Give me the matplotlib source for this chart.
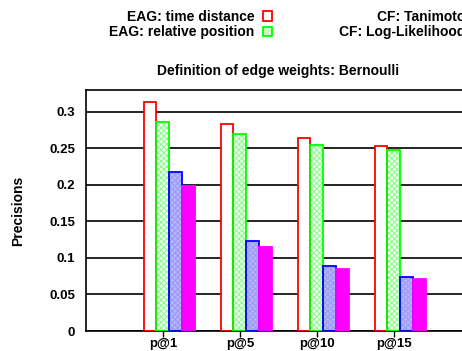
import numpy as np
import matplotlib.pyplot as plt
from matplotlib.patches import Patch

plt.rcParams['font.family'] = ['Liberation Sans', 'DejaVu Sans']
plt.rcParams['font.weight'] = 'bold'
plt.rcParams['axes.labelweight'] = 'bold'
plt.rcParams['hatch.linewidth'] = 0.8

# datos
categories = ['p@1', 'p@5', 'p@10', 'p@15']
series_names = ['EAG: time distance', 'EAG: relative position',
                'CF: Tanimoto', 'CF: Log-Likelihood']
eag_time = [0.313, 0.284, 0.264, 0.253]
eag_rel = [0.286, 0.270, 0.255, 0.248]
cf_tanimoto = [0.218, 0.123, 0.089, 0.074]
cf_loglik = [0.199, 0.115, 0.085, 0.071]
yticks = [0, 0.05, 0.1, 0.15, 0.2, 0.25, 0.3]
ytick_labels = ['0', '0.05', '0.1', '0.15', '0.2', '0.25', '0.3']

series = [eag_time, eag_rel, cf_tanimoto, cf_loglik]

# estilos: (relleno, color del patrón, patrón, borde)
styles = [
    ('white', 'white', None, '#ff0000'),
    ('white', '#88ff88', 'xxxxxx', '#00ff00'),
    ('#b4b4ff', '#9c9cf0', 'xxxxxx', '#0000ff'),
    ('#ff00ff', '#ff00ff', None, '#ff00ff'),
]
legend_fill = ['white', '#c8ffc8', '#b4b4ff', '#ff00ff']

fig = plt.figure(figsize=(4.62, 3.51), dpi=100)
ax = fig.add_axes([86/462, 20/351, 385/462, 241/351])

x = np.arange(len(categories))
w = 0.165
offsets = [-0.25 + i*w for i in range(4)]

for vals, (fc, hc, hatch, ec), off in zip(series, styles, offsets):
    ax.bar(x + off, vals, w, align='edge', facecolor=fc, edgecolor=hc,
           hatch=hatch, linewidth=0, zorder=2)
    ax.bar(x + off, vals, w, align='edge', fill=False, edgecolor=ec,
           linewidth=1.3, zorder=3)

ax.set_xlim(-1, 4)
ax.set_ylim(0, 0.33)
ax.set_xticks(x)
ax.set_xticklabels(categories, fontsize=9.5)
ax.set_yticks(yticks)
ax.set_yticklabels(ytick_labels, fontsize=9.5)
ax.tick_params(axis='y', length=0, pad=8)
ax.tick_params(axis='x', direction='out', length=4, width=1, pad=1)
ax.set_axisbelow(True)
ax.yaxis.grid(True, color='black', linewidth=1.2)
for s in ax.spines.values():
    s.set_linewidth(1.2)

ax.set_ylabel('Precisions', fontsize=10, labelpad=17)
fig.text(278.5/462, 1 - 71/351, 'Definition of edge weights: Bernoulli',
         ha='center', va='center', fontsize=10)

# leyenda en dos columnas
handles = [Patch(facecolor=lf, edgecolor=st[3], linewidth=1.3)
           for lf, st in zip(legend_fill, styles)]
kw = dict(loc='upper right', frameon=False, markerfirst=False,
          handlelength=0.65, handleheight=0.65, handletextpad=0.6,
          labelspacing=0.1, borderpad=0, borderaxespad=0, fontsize=10)
fig.legend(handles[:2], series_names[:2], bbox_to_anchor=(272/462, 1 - 10/351), **kw)
fig.legend(handles[2:], series_names[2:], bbox_to_anchor=(483/462, 1 - 10/351), **kw)

fig.savefig('out.png', dpi=100)
